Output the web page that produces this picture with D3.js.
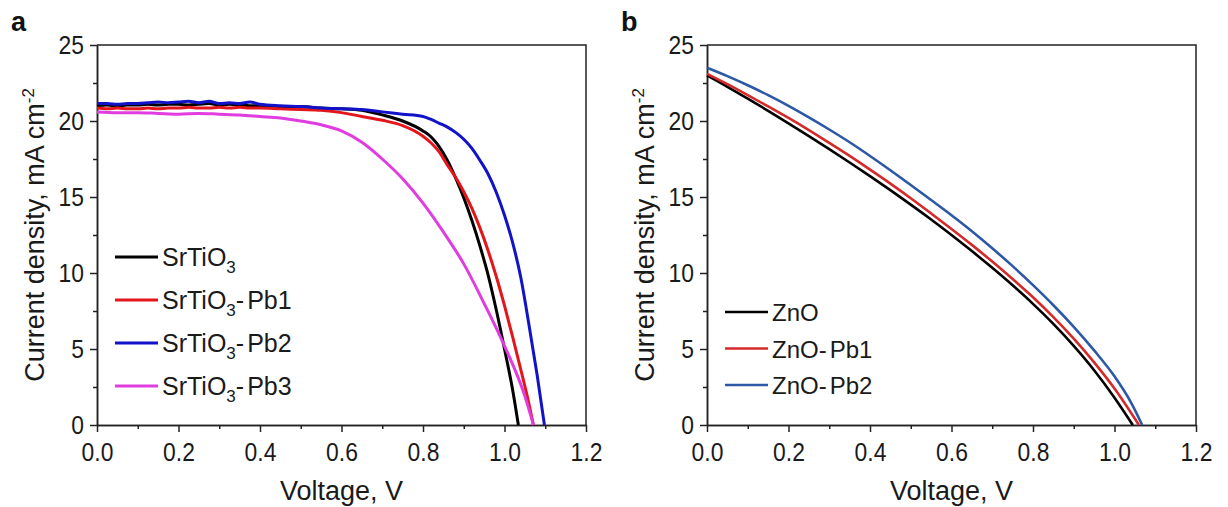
<!DOCTYPE html>
<html>
<head>
<meta charset="utf-8">
<script src="https://cdn.jsdelivr.net/npm/d3@7"></script>
<style>
  body { margin: 0; background: #fff; }
  svg { display: block; font-family: "Liberation Sans", Arial, sans-serif; }
  .axis path, .axis line { stroke: #222; stroke-width: 1.5; }
  .axis text { font-size: 26px; fill: #1a1a1a; }
  .frame { fill: none; stroke: #222; stroke-width: 1.5; }
  .curve { fill: none; stroke-linejoin: round; stroke-linecap: butt; }
  .title { font-size: 27px; fill: #1a1a1a; }
  .legend text { fill: #1a1a1a; }
  .panel-label { font-size: 27px; font-weight: bold; fill: #111; }
</style>
</head>
<body>
<div id="chart"></div>
<script>
// ---- panel a : SrTiO3 devices ----
var srtioV = [0, .025, .05, .075, .1, .125, .15, .175, .2, .225, .25, .275, .3, .325, .35, .375, .4, .45, .5, .55, .6, .65, .7, .75, .8, .82, .84, .86, .88, .9, .92, .94, .96, .98, 1.0, 1.02, 1.034];
var srtioJ = [21.0, 21.05, 21.0, 21.05, 21.05, 21.1, 21.05, 21.1, 21.1, 21.05, 21.1, 21.15, 21.05, 21.1, 21.05, 21.0, 21.0, 20.95, 20.95, 20.85, 20.8, 20.7, 20.4, 20.0, 19.35, 18.95, 18.3, 17.4, 16.25, 14.95, 13.45, 11.75, 9.85, 7.55, 5.0, 2.3, 0];

var pb1V = [0, .025, .05, .075, .1, .125, .15, .175, .2, .225, .25, .275, .3, .325, .35, .375, .4, .45, .5, .55, .6, .65, .7, .75, .8, .82, .84, .86, .88, .9, .92, .94, .96, .98, 1.0, 1.02, 1.04, 1.06, 1.071];
var pb1J = [20.85, 20.8, 20.85, 20.8, 20.8, 20.85, 20.8, 20.85, 20.85, 20.9, 20.85, 20.85, 20.9, 20.85, 20.9, 20.85, 20.85, 20.8, 20.75, 20.7, 20.55, 20.3, 20.05, 19.7, 19.0, 18.55, 17.95, 17.1, 16.3, 15.35, 14.25, 12.95, 11.45, 9.75, 7.85, 5.8, 3.65, 1.4, 0];

var pb2V = [0, .025, .05, .075, .1, .125, .15, .175, .2, .225, .25, .275, .3, .325, .35, .375, .4, .45, .5, .55, .6, .65, .7, .75, .8, .82, .84, .86, .88, .9, .92, .94, .96, .98, 1.0, 1.02, 1.04, 1.06, 1.08, 1.098];
var pb2J = [21.15, 21.15, 21.1, 21.15, 21.15, 21.2, 21.25, 21.2, 21.25, 21.3, 21.2, 21.3, 21.15, 21.2, 21.15, 21.25, 21.1, 21.0, 20.95, 20.85, 20.8, 20.75, 20.6, 20.45, 20.3, 20.1, 19.85, 19.6, 19.25, 18.8, 18.2, 17.4, 16.5, 15.3, 13.8, 12.0, 9.7, 6.6, 3.3, 0];

var pb3V = [0, .05, .1, .15, .2, .25, .3, .35, .4, .45, .5, .55, .6, .65, .7, .75, .8, .85, .9, .95, 1.0, 1.05, 1.071];
var pb3J = [20.6, 20.55, 20.55, 20.5, 20.45, 20.5, 20.45, 20.4, 20.3, 20.2, 20.0, 19.75, 19.35, 18.6, 17.5, 16.2, 14.6, 12.7, 10.6, 8.0, 5.2, 1.9, 0];

// ---- panel b : ZnO devices ----
var znoV = [0, .05, .1, .15, .2, .25, .3, .35, .4, .45, .5, .55, .6, .65, .7, .75, .8, .85, .9, .95, 1.0, 1.045];
var znoJ = [23.0, 22.25, 21.47, 20.67, 19.85, 19.01, 18.15, 17.27, 16.37, 15.45, 14.5, 13.52, 12.5, 11.44, 10.34, 9.19, 7.97, 6.65, 5.2, 3.6, 1.8, 0];

var zno1V = [0, .05, .1, .15, .2, .25, .3, .35, .4, .45, .5, .55, .6, .65, .7, .75, .8, .85, .9, .95, 1.0, 1.06];
var zno1J = [23.1, 22.42, 21.7, 20.96, 20.2, 19.4, 18.56, 17.7, 16.8, 15.88, 14.92, 13.92, 12.9, 11.85, 10.75, 9.6, 8.4, 7.1, 5.68, 4.12, 2.4, 0];

var zno2V = [0, .05, .1, .15, .2, .25, .3, .35, .4, .45, .5, .55, .6, .65, .7, .75, .8, .85, .9, .95, 1.0, 1.04, 1.068];
var zno2J = [23.5, 22.95, 22.35, 21.7, 21.0, 20.24, 19.44, 18.6, 17.7, 16.76, 15.79, 14.8, 13.8, 12.75, 11.63, 10.45, 9.2, 7.88, 6.46, 4.91, 3.2, 1.5, 0];

// ticks shared by both panels
var xTicks = [0, 0.2, 0.4, 0.6, 0.8, 1.0, 1.2];
var xMinor = [0.1, 0.3, 0.5, 0.7, 0.9, 1.1];
var yTicks = [0, 5, 10, 15, 20, 25];
var yMinor = [2.5, 7.5, 12.5, 17.5, 22.5];

var width = 1228, height = 507;
var top_ = 45, bottom = 425, plotW = 489;

var panels = [
  { label: 'a', left: 97, lw: 3, fontSize: 25, rowY: 257, rowStep: 43,
    series: [
      { name: 'SrTiO', sub: '3', suffix: '', color: '#000000', v: srtioV, j: srtioJ },
      { name: 'SrTiO', sub: '3', suffix: '-Pb1', color: '#e3161b', v: pb1V, j: pb1J },
      { name: 'SrTiO', sub: '3', suffix: '-Pb2', color: '#1212c8', v: pb2V, j: pb2J },
      { name: 'SrTiO', sub: '3', suffix: '-Pb3', color: '#e03ce0', v: pb3V, j: pb3J }
    ] },
  { label: 'b', left: 707, lw: 2.6, fontSize: 24, rowY: 312, rowStep: 36.5,
    series: [
      { name: 'ZnO', sub: '', suffix: '', color: '#000000', v: znoV, j: znoJ },
      { name: 'ZnO', sub: '', suffix: '-Pb1', color: '#d42a2a', v: zno1V, j: zno1J },
      { name: 'ZnO', sub: '', suffix: '-Pb2', color: '#2d58a6', v: zno2V, j: zno2J }
    ] }
];

var svg = d3.select('#chart').append('svg')
    .attr('width', width)
    .attr('height', height);

// narrow the tick digits a little, the source font is condensed
function squeeze(sel, k) {
  sel.each(function() {
    var w = this.getComputedTextLength();
    d3.select(this).attr('textLength', w * k).attr('lengthAdjust', 'spacingAndGlyphs');
  });
}

panels.forEach(function(p) {
  var x = d3.scaleLinear().domain([0, 1.2]).range([p.left, p.left + plotW]);
  var y = d3.scaleLinear().domain([0, 25]).range([bottom, top_]);

  var g = svg.append('g');

  // minor ticks first so the major axis sits on top
  g.append('g').attr('class', 'axis')
      .attr('transform', 'translate(0,' + bottom + ')')
      .call(d3.axisBottom(x).tickValues(xMinor).tickSize(4).tickSizeOuter(0).tickFormat(''));
  g.append('g').attr('class', 'axis')
      .attr('transform', 'translate(' + p.left + ',0)')
      .call(d3.axisLeft(y).tickValues(yMinor).tickSize(4).tickSizeOuter(0).tickFormat(''));

  var xAxis = g.append('g').attr('class', 'axis')
      .attr('transform', 'translate(0,' + bottom + ')')
      .call(d3.axisBottom(x).tickValues(xTicks).tickSize(7).tickSizeOuter(0)
        .tickPadding(11).tickFormat(d3.format('.1f')));
  var yAxis = g.append('g').attr('class', 'axis')
      .attr('transform', 'translate(' + p.left + ',0)')
      .call(d3.axisLeft(y).tickValues(yTicks).tickSize(7).tickSizeOuter(0)
        .tickPadding(6).tickFormat(d3.format('d')));

  squeeze(xAxis.selectAll('text'), 0.88);
  squeeze(yAxis.selectAll('text'), 0.88);

  // top and right sides of the box
  g.append('path').attr('class', 'frame')
      .attr('d', 'M' + x(0) + ',' + y(25) + 'H' + x(1.2) + 'V' + y(0));

  var line = d3.line()
      .x(function(d) { return x(d[0]); })
      .y(function(d) { return y(d[1]); })
      .curve(d3.curveMonotoneX);

  g.selectAll('.curve')
      .data(p.series)
    .enter().append('path')
      .attr('class', 'curve')
      .attr('stroke', function(d) { return d.color; })
      .attr('stroke-width', p.lw)
      .attr('d', function(d) { return line(d3.zip(d.v, d.j)); });

  // legend
  var leg = g.append('g').attr('class', 'legend');
  var row = leg.selectAll('g')
      .data(p.series)
    .enter().append('g')
      .attr('transform', function(d, i) { return 'translate(' + (p.left + 18) + ',' + (p.rowY + i * p.rowStep) + ')'; });

  row.append('line')
      .attr('x1', 0).attr('x2', 43)
      .attr('stroke', function(d) { return d.color; })
      .attr('stroke-width', p.lw);

  var t = row.append('text')
      .attr('x', 47)
      .attr('y', 9)
      .style('font-size', p.fontSize + 'px');
  t.append('tspan').text(function(d) { return d.name; });
  t.filter(function(d) { return d.sub; })
    .append('tspan')
      .attr('dy', 7)
      .style('font-size', '17px')
      .text(function(d) { return d.sub; });
  t.filter(function(d) { return d.suffix; })
    .append('tspan')
      .attr('dy', function(d) { return d.sub ? -7 : 0; })
      .text('-');
  t.filter(function(d) { return d.suffix; })
    .append('tspan')
      .attr('dx', 3)
      .text(function(d) { return d.suffix.slice(1); });

  // axis titles
  g.append('text').attr('class', 'title')
      .attr('x', x(0.6))
      .attr('y', 500)
      .attr('text-anchor', 'middle')
      .text('Voltage, V');

  var yt = g.append('text').attr('class', 'title')
      .attr('transform', 'translate(' + (p.left - 53) + ',' + ((top_ + bottom) / 2) + ') rotate(-90)')
      .attr('text-anchor', 'middle');
  yt.append('tspan').text('Current density, mA cm');
  yt.append('tspan').attr('dy', -10).style('font-size', '17px').text('-2');

  g.append('text').attr('class', 'panel-label')
      .attr('x', p.left - 86)
      .attr('y', 31)
      .text(p.label);
});
</script>
</body>
</html>
